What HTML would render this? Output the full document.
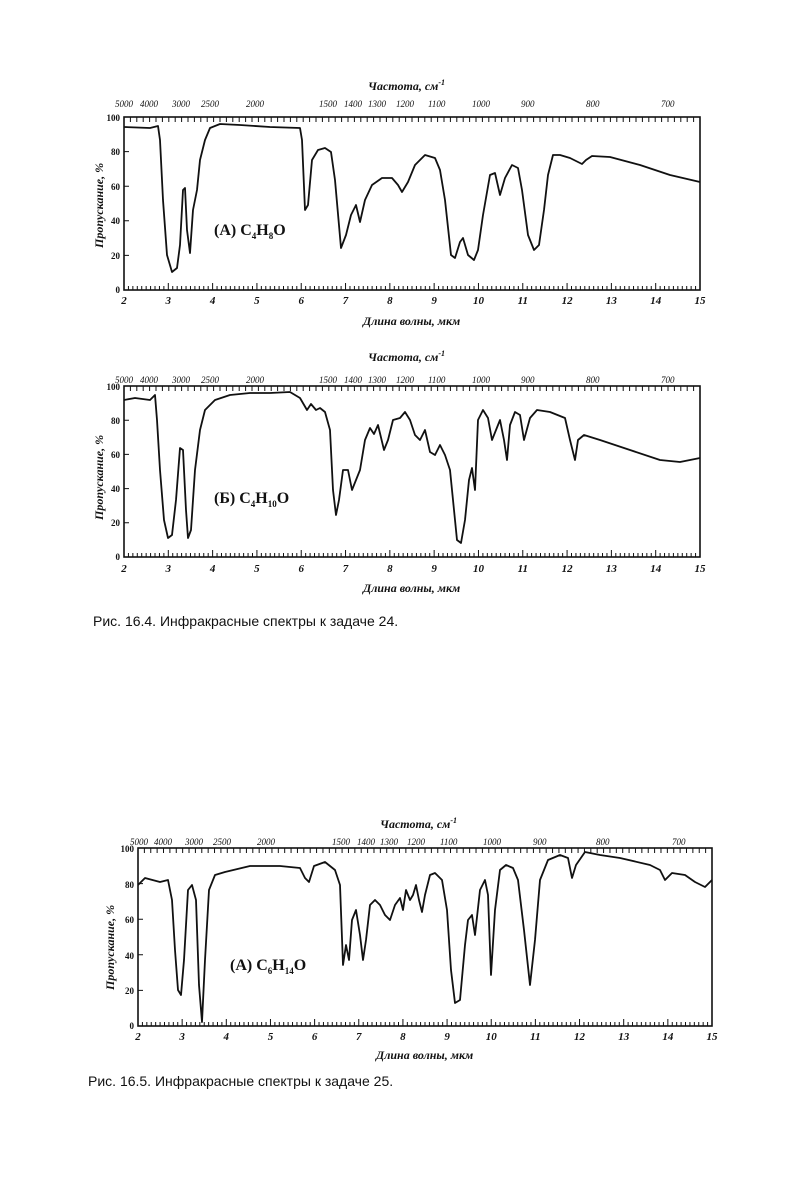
<!DOCTYPE html>
<html><head><meta charset="utf-8">
<style>
body{margin:0;background:#fff;}
svg{display:block}
text{font-family:"Liberation Serif",serif;fill:#111;}
.cap{font-family:"Liberation Sans",sans-serif;}
.t{font-weight:bold}
</style></head>
<body>
<svg id="s" width="792" height="1200" viewBox="0 0 792 1200" xmlns="http://www.w3.org/2000/svg">
<rect width="792" height="1200" fill="#fff"/>
<g id="g"></g>
<text class="t" x="368" y="90" font-size="12" font-style="italic">Частота, см<tspan font-size="8" dy="-5">-1</tspan></text>
<g font-size="9" font-style="italic">
<text x="115" y="107">5000</text><text x="140" y="107">4000</text><text x="172" y="107">3000</text><text x="201" y="107">2500</text><text x="246" y="107">2000</text>
<text x="319" y="107">1500</text><text x="344" y="107">1400</text><text x="368" y="107">1300</text><text x="396" y="107">1200</text><text x="428" y="107">1100</text><text x="472" y="107">1000</text><text x="521" y="107">900</text><text x="586" y="107">800</text><text x="661" y="107">700</text>
</g>
<g font-size="9" text-anchor="end" font-weight="bold"><text x="120" y="121">100</text><text x="120" y="155">80</text><text x="120" y="190">60</text><text x="120" y="224">40</text><text x="120" y="259">20</text><text x="120" y="293">0</text></g>
<text class="t" transform="translate(103,248) rotate(-90)" font-size="12" font-style="italic">Пропускание, %</text>
<text class="t" x="214" y="235" font-size="16">(A)  C<tspan font-size="9" dy="4">4</tspan><tspan dy="-4">H</tspan><tspan font-size="9" dy="4">8</tspan><tspan dy="-4">O</tspan></text>
<text class="t" x="363" y="325" font-size="12" font-style="italic">Длина волны, мкм</text>
<text class="t" x="368" y="361" font-size="12" font-style="italic">Частота, см<tspan font-size="8" dy="-5">-1</tspan></text>
<g font-size="9" font-style="italic">
<text x="115" y="383">5000</text><text x="140" y="383">4000</text><text x="172" y="383">3000</text><text x="201" y="383">2500</text><text x="246" y="383">2000</text>
<text x="319" y="383">1500</text><text x="344" y="383">1400</text><text x="368" y="383">1300</text><text x="396" y="383">1200</text><text x="428" y="383">1100</text><text x="472" y="383">1000</text><text x="521" y="383">900</text><text x="586" y="383">800</text><text x="661" y="383">700</text>
</g>
<g font-size="9" text-anchor="end" font-weight="bold"><text x="120" y="390">100</text><text x="120" y="424">80</text><text x="120" y="458">60</text><text x="120" y="492">40</text><text x="120" y="526">20</text><text x="120" y="560">0</text></g>
<text class="t" transform="translate(103,520) rotate(-90)" font-size="12" font-style="italic">Пропускание, %</text>
<text class="t" x="214" y="503" font-size="16">(Б)  C<tspan font-size="9" dy="4">4</tspan><tspan dy="-4">H</tspan><tspan font-size="9" dy="4">10</tspan><tspan dy="-4">O</tspan></text>
<text class="t" x="363" y="592" font-size="12" font-style="italic">Длина волны, мкм</text>
<text class="cap" x="93" y="626" font-size="14">Рис.  16.4.  Инфракрасные  спектры  к  задаче  24.</text>
<text class="t" x="380" y="828" font-size="12" font-style="italic">Частота, см<tspan font-size="8" dy="-5">-1</tspan></text>
<g font-size="9" font-style="italic">
<text x="130" y="845">5000</text><text x="154" y="845">4000</text><text x="185" y="845">3000</text><text x="213" y="845">2500</text><text x="257" y="845">2000</text>
<text x="332" y="845">1500</text><text x="357" y="845">1400</text><text x="380" y="845">1300</text><text x="407" y="845">1200</text><text x="440" y="845">1100</text><text x="483" y="845">1000</text><text x="533" y="845">900</text><text x="596" y="845">800</text><text x="672" y="845">700</text>
</g>
<g font-size="9" text-anchor="end" font-weight="bold"><text x="134" y="852">100</text><text x="134" y="888">80</text><text x="134" y="923">60</text><text x="134" y="959">40</text><text x="134" y="994">20</text><text x="134" y="1029">0</text></g>
<text class="t" transform="translate(114,990) rotate(-90)" font-size="12" font-style="italic">Пропускание, %</text>
<text class="t" x="230" y="970" font-size="16">(A)  C<tspan font-size="9" dy="4">6</tspan><tspan dy="-4">H</tspan><tspan font-size="9" dy="4">14</tspan><tspan dy="-4">O</tspan></text>
<text class="t" x="376" y="1059" font-size="12" font-style="italic">Длина волны, мкм</text>
<text class="cap" x="88" y="1086" font-size="14">Рис.  16.5.  Инфракрасные  спектры  к  задаче  25.</text>
</svg>
<script>
var g=document.getElementById('g');var NS='http://www.w3.org/2000/svg';
function el(n,a){var e=document.createElementNS(NS,n);for(var k in a)e.setAttribute(k,a[k]);g.appendChild(e);return e;}
function chart(x0,x1,yt,yb,pts,by){
 el('rect',{x:x0,y:yt,width:x1-x0,height:yb-yt,fill:'none',stroke:'#111','stroke-width':1.6});
 var d='';var w=x1-x0,h=yb-yt;
 for(var i=0;i<=130;i++){var x=x0+w*i/130;var L=(i%10==0)?7:4;d+='M'+x+' '+yb+'v-'+L;}
 for(var i=0;i<=90;i++){var x=x0+w*i/90;d+='M'+x+' '+yt+'v5';}
 for(var i=1;i<5;i++){var y=yt+h*i/5;d+='M'+x0+' '+y+'h5';}
 el('path',{d:d,stroke:'#111','stroke-width':1,fill:'none'});
 var p='';pts.forEach(function(q,j){p+=(j?'L':'M')+q[0]+' '+q[1];});
 el('path',{d:p,stroke:'#111','stroke-width':1.8,fill:'none','stroke-linejoin':'round'});
 for(var i=2;i<=15;i++){var t=el('text',{x:x0+w*(i-2)/13,y:by,'font-size':11,'text-anchor':'middle','font-style':'italic','font-weight':'bold'});t.textContent=i;}
}
chart(124,700,117,290,[[124,127],[150,128],[158,126],[160,140],[163,200],[167,255],[172,272],[177,268],[180,245],[183,190],[185,188],[187,230],[190,253],[193,210],[197,190],[200,160],[205,140],[210,128],[220,124],[240,125],[270,127],[300,128],[302,140],[305,210],[308,205],[312,160],[318,150],[325,148],[331,152],[335,180],[341,248],[346,235],[351,215],[356,205],[360,222],[365,200],[372,185],[382,178],[392,178],[398,185],[402,192],[408,182],[415,165],[425,155],[435,158],[440,170],[445,200],[451,255],[455,258],[460,242],[463,238],[468,255],[474,260],[478,250],[483,215],[490,175],[495,173],[500,195],[505,178],[512,165],[518,168],[522,190],[528,235],[534,250],[539,245],[544,210],[548,175],[553,155],[560,155],[570,158],[578,162],[582,164],[586,160],[592,156],[610,157],[640,165],[670,175],[700,182]],304);
chart(124,700,386,557,[[124,400],[135,398],[150,400],[155,395],[157,420],[160,470],[164,520],[168,538],[172,535],[176,500],[180,448],[183,450],[186,510],[188,538],[191,530],[195,470],[200,430],[205,410],[215,400],[230,395],[250,393],[270,393],[290,392],[300,398],[307,410],[311,404],[316,410],[320,408],[325,412],[330,430],[333,490],[336,515],[339,500],[343,470],[348,470],[352,490],[356,480],[360,470],[365,440],[370,428],[374,434],[378,425],[384,450],[388,440],[393,420],[400,418],[405,412],[410,420],[415,435],[420,440],[425,430],[430,452],[435,455],[440,445],[445,455],[450,470],[453,500],[457,540],[461,543],[465,520],[469,480],[472,468],[475,490],[478,420],[483,410],[488,418],[492,440],[496,430],[500,420],[504,440],[507,460],[510,425],[515,412],[520,415],[524,440],[530,418],[537,410],[550,412],[565,418],[570,440],[575,460],[578,440],[584,435],[600,440],[630,450],[660,460],[680,462],[700,458]],572);
chart(138,712,848,1026,[[138,885],[145,878],[160,882],[168,880],[172,900],[175,950],[178,990],[181,995],[184,960],[188,890],[192,885],[196,900],[199,985],[202,1022],[205,960],[209,890],[215,875],[225,872],[250,866],[280,866],[300,868],[305,878],[309,882],[314,866],[325,862],[335,870],[340,885],[343,965],[346,945],[349,960],[352,920],[356,910],[360,935],[363,960],[366,940],[370,905],[375,900],[380,905],[385,915],[390,920],[395,905],[400,898],[403,910],[406,890],[410,900],[413,895],[416,885],[419,900],[422,912],[425,895],[430,875],[435,873],[442,880],[447,910],[451,970],[455,1003],[460,1000],[465,945],[468,920],[472,915],[475,935],[480,890],[485,880],[488,895],[491,975],[495,910],[500,870],[506,865],[513,868],[518,880],[524,930],[530,985],[535,940],[540,880],[548,860],[560,855],[568,858],[572,878],[576,865],[585,852],[600,855],[620,858],[650,865],[660,870],[665,880],[672,873],[685,875],[695,882],[705,887],[712,880]],1040);
</script>
</body></html>
